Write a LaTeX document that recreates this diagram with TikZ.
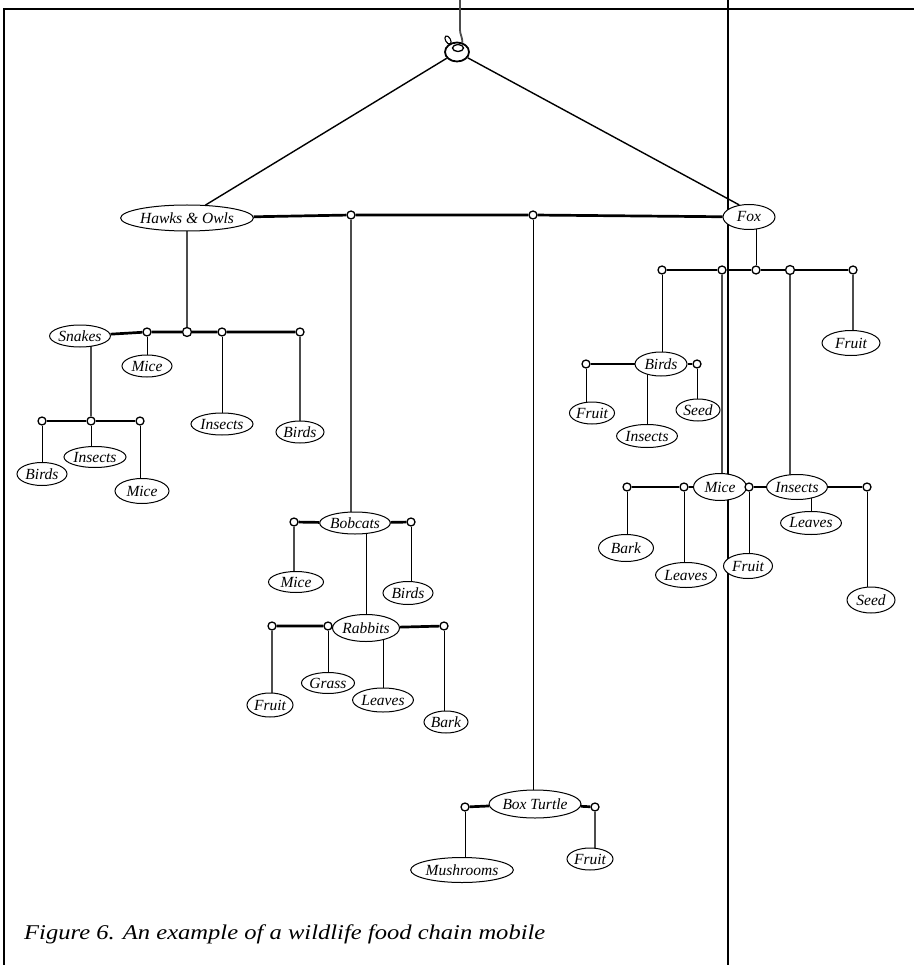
\documentclass[tikz,border=0pt]{standalone}
\usepackage{fontspec}
\setmainfont{Liberation Serif}
\usetikzlibrary{shapes.geometric,backgrounds}
\begin{document}
\begin{tikzpicture}[x=1pt,y=-1pt,
  lab/.style 2 args={ellipse, draw, fill=white, line width=1pt, inner sep=0pt,
    minimum width=#1, minimum height=#2, font=\fontsize{15.5}{17}\selectfont\itshape},
  knot/.style={circle, draw, fill=white, line width=1.3pt, inner sep=0pt, minimum size=8pt},
  bar/.style={line width=2.7pt},
  str/.style={line width=1pt},
  dstr/.style={line width=1.8pt, draw=black!70},
  frame/.style={line width=1.4pt},
  wire/.style={line width=1.4pt}]
\useasboundingbox (0,0) rectangle (914,965);

% ---- hanger ----
\node[ellipse, draw, fill=white, line width=1.8pt, minimum width=24pt, minimum height=19pt, inner sep=0pt] (ring) at (457,52) {};
\node[ellipse, draw, line width=1.3pt, minimum width=11pt, minimum height=7pt, inner sep=0pt] (eye) at (458,48) {};
\node[ellipse, draw, fill=white, line width=1.1pt, minimum width=5pt, minimum height=9pt, inner sep=0pt, rotate=30] (tab) at (448,40) {};

% ---- main level ----
\node[lab={122pt}{26pt}] (ho) at (187,218) {Hawks \& Owls};
\node[lab={52pt}{25pt}] (fox) at (749,217) {Fox};
\node[knot] (mk1) at (351,215) {};
\node[knot] (mk2) at (533,215) {};

% ---- hawks & owls branch ----
\node[lab={58pt}{22pt}] (snakes) at (80,336) {Snakes};
\node[knot] (hkA) at (147,332) {};
\node[knot, minimum size=9pt] (hkB) at (187,332) {};
\node[knot] (hkC) at (222,332) {};
\node[knot] (hkD) at (300,332) {};
\node[lab={50pt}{22pt}] (mice1) at (147,366) {Mice};
\node[lab={62pt}{22pt}] (insects1) at (222,424) {Insects};
\node[lab={48pt}{22pt}] (birds1) at (300,432) {Birds};
\node[knot] (sk1) at (42,421) {};
\node[knot] (sk2) at (91,421) {};
\node[knot] (sk3) at (140,421) {};
\node[lab={50pt}{23pt}] (birds2) at (42,474) {Birds};
\node[lab={62pt}{21pt}] (insects2) at (95,457) {Insects};
\node[lab={54pt}{25pt}] (mice2) at (142,491) {Mice};

% ---- bobcats branch ----
\node[lab={64pt}{22pt}] (bobcats) at (355,523) {Bobcats};
\node[knot] (bk1) at (294,522) {};
\node[knot] (bk2) at (411,522) {};
\node[lab={55pt}{21pt}] (mice3) at (296,582) {Mice};
\node[lab={50pt}{23pt}] (birds3) at (408,593) {Birds};
\node[lab={64pt}{27pt}] (rabbits) at (366,628) {Rabbits};
\node[knot] (rk1) at (272,626) {};
\node[knot] (rk2) at (328,626) {};
\node[knot] (rk3) at (444,626) {};
\node[lab={46pt}{24pt}] (fruit1) at (270,705) {Fruit};
\node[lab={53pt}{21pt}] (grass) at (328,683) {Grass};
\node[lab={50pt}{24pt}] (leaves1) at (383,700) {Leaves};
\node[lab={44pt}{22pt}] (bark1) at (446,722) {Bark};

% ---- box turtle branch ----
\node[lab={80pt}{28pt}] (turtle) at (535,804) {Box Turtle};
\node[knot] (tk1) at (465,807) {};
\node[knot] (tk2) at (595,807) {};
\node[lab={91pt}{25pt}] (mush) at (462,870) {Mushrooms};
\node[lab={46pt}{22pt}] (fruit2) at (590,859) {Fruit};

% ---- fox branch ----
\node[knot] (fk1) at (662,270) {};
\node[knot] (fk2) at (722,270) {};
\node[knot] (fk3) at (756,270) {};
\node[knot, minimum size=9pt] (fk4) at (790,270) {};
\node[knot] (fk5) at (853,270) {};
\node[lab={58pt}{25pt}] (fruit3) at (851,343) {Fruit};
\node[lab={52pt}{24pt}] (birds4) at (661,364) {Birds};
\node[knot] (bbk1) at (586,364) {};
\node[knot] (bbk2) at (697,364) {};
\node[lab={44pt}{22pt}] (fruit4) at (592,413) {Fruit};
\node[lab={60pt}{23pt}] (insects3) at (647,436) {Insects};
\node[lab={44pt}{22pt}] (seed1) at (698,410) {Seed};
\node[lab={53pt}{27pt}] (mice4) at (720,487) {Mice};
\node[knot] (mck1) at (627,487) {};
\node[knot] (mck2) at (684,487) {};
\node[knot] (mck3) at (749,487) {};
\node[lab={55pt}{27pt}] (bark2) at (626,548) {Bark};
\node[lab={58pt}{25pt}] (leaves2) at (686,575) {Leaves};
\node[lab={49pt}{25pt}] (fruit5) at (748,566) {Fruit};
\node[lab={60pt}{25pt}] (insects4) at (797,487) {Insects};
\node[knot] (ik1) at (867,487) {};
\node[lab={58pt}{23pt}] (leaves3) at (811,523) {Leaves};
\node[lab={48pt}{26pt}] (seed2) at (871,600) {Seed};

% ---- caption ----
\node[anchor=base west, inner sep=0pt] (caption) at (24,939)
  {\scalebox{1.17}[1]{\fontsize{21}{24}\selectfont\itshape Figure 6. An example of a wildlife food chain mobile}};

\begin{pgfonlayer}{background}
  % frame
  \coordinate (tl) at (4,9);
  \coordinate (tr) at (914,9);
  \coordinate (bl) at (4,965);
  \coordinate (vt) at (728,0);
  \coordinate (vb) at (728,965);
  \draw[frame] (bl) -- (tl) -- (tr);
  \draw[frame] (vt) -- (vb);
  % hanger wire
  \coordinate (wtop) at (460,0);
  \draw[dstr] (wtop) -- ++(0,30) .. controls +(0,4) and +(0,-5) .. (ring.60);
  \draw[wire] (ring) -- (ho.35);
  \draw[wire] (ring) -- (fox.129);
  % main bar
  \draw[bar] (ho) -- (mk1) -- (mk2) -- (fox);
  % hawks branch
  \draw[dstr] (ho) -- (hkB);
  \draw[bar] (snakes) -- (hkA) -- (hkB) -- (hkC) -- (hkD);
  \draw[str] (hkA) -- (hkA |- mice1.center);
  \draw[str] (hkC) -- (hkC |- insects1.center);
  \draw[dstr] (hkD) -- (hkD |- birds1.center);
  \draw[dstr] (sk2) -- (sk2 |- snakes.center);
  \draw[bar] (sk1) -- (sk2) -- (sk3);
  \draw[str] (sk1) -- (sk1 |- birds2.center);
  \draw[str] (sk2) -- (sk2 |- insects2.center);
  \draw[str] (sk3) -- (sk3 |- mice2.center);
  % bobcats branch
  \draw[dstr] (mk1) -- (mk1 |- bobcats.center);
  \draw[bar] (bk1) -- (bobcats) -- (bk2);
  \draw[dstr] (bk1) -- (bk1 |- mice3.center);
  \draw[str] (bk2) -- (bk2 |- birds3.center);
  \draw[str] (rabbits) -- (rabbits |- bobcats.center);
  \draw[bar] (rk1) -- (rk2) -- (rabbits) -- (rk3);
  \draw[dstr] (rk1) -- (rk1 |- fruit1.center);
  \draw[str] (rk2) -- (rk2 |- grass.center);
  \draw[str] (leaves1) -- (leaves1 |- rabbits.center);
  \draw[str] (rk3) -- (rk3 |- bark1.center);
  % box turtle branch
  \draw[str] (mk2) -- (mk2 |- turtle.center);
  \draw[bar] (tk1) -- (turtle) -- (tk2);
  \draw[str] (tk1) -- (tk1 |- mush.center);
  \draw[dstr] (tk2) -- (tk2 |- fruit2.center);
  % fox branch
  \draw[str] (fk3) -- (fk3 |- fox.center);
  \draw[bar] (fk1) -- (fk2) -- (fk3) -- (fk4) -- (fk5);
  \draw[dstr] (fk5) -- (fk5 |- fruit3.center);
  \draw[str] (fk1) -- (fk1 |- birds4.center);
  \draw[bar] (bbk1) -- (birds4) -- (bbk2);
  \draw[str] (bbk1) -- (bbk1 |- fruit4.center);
  \draw[str] (insects3) -- (insects3 |- birds4.center);
  \draw[str] (bbk2) -- (bbk2 |- seed1.center);
  \draw[dstr] (fk2) -- (fk2 |- mice4.center);
  \draw[dstr] (fk4) -- (fk4 |- insects4.center);
  \draw[bar] (mck1) -- (mck2) -- (mice4) -- (mck3) -- (insects4) -- (ik1);
  \draw[str] (mck1) -- (mck1 |- bark2.center);
  \draw[str] (mck2) -- (mck2 |- leaves2.center);
  \draw[str] (mck3) -- (mck3 |- fruit5.center);
  \draw[str] (leaves3) -- (leaves3 |- insects4.center);
  \draw[str] (ik1) -- (ik1 |- seed2.center);
\end{pgfonlayer}
\end{tikzpicture}
\end{document}
